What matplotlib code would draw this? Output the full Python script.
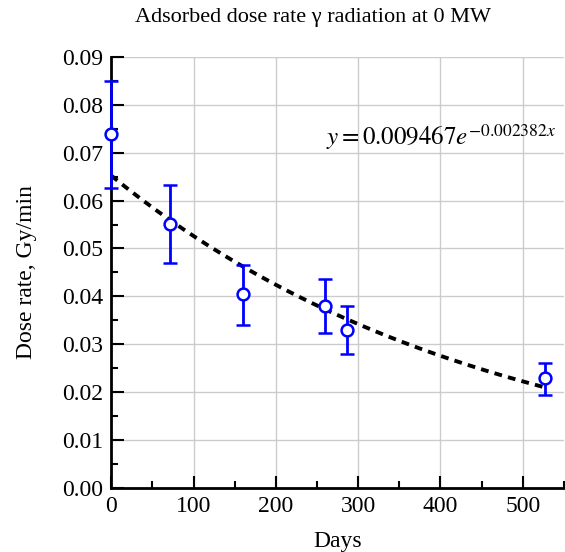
import numpy as np
import matplotlib.pyplot as plt
from matplotlib.ticker import MultipleLocator, FormatStrFormatter

plt.rcParams['font.family'] = ['Liberation Serif', 'DejaVu Serif']
plt.rcParams['mathtext.fontset'] = 'stix'

# measured points
days = [0, 71, 160, 260, 287, 527]
dose = [0.0739, 0.0551, 0.0405, 0.0380, 0.0330, 0.0229]
err_lo = [0.0112, 0.0081, 0.0065, 0.0056, 0.0051, 0.0035]
err_hi = [0.0111, 0.0082, 0.0060, 0.0057, 0.0050, 0.0031]

# exponential trend drawn in the chart
fit_a = 0.0652
fit_k = 0.00215
fit_xmax = 525

fig = plt.figure(figsize=(5.65, 5.52), dpi=100)
ax = fig.add_axes([0.197, 0.116, 0.801, 0.781])

xs = np.linspace(0, fit_xmax, 200)
ax.plot(xs, fit_a * np.exp(-fit_k * xs), color='black', lw=2.8,
        ls=(0, (2, 1.6)), zorder=3)

ax.errorbar(days, dose, yerr=[err_lo, err_hi], fmt='o', color='#0000ff',
            ecolor='#0000ff', elinewidth=2, capsize=5, capthick=2,
            markersize=8.5, markerfacecolor='white', markeredgewidth=1.8,
            zorder=4, clip_on=False)

ax.set_xlim(0, 550)
ax.set_ylim(0, 0.09)
ax.xaxis.set_major_locator(MultipleLocator(100))
ax.xaxis.set_minor_locator(MultipleLocator(50))
ax.yaxis.set_major_locator(MultipleLocator(0.01))
ax.yaxis.set_minor_locator(MultipleLocator(0.005))
ax.yaxis.set_major_formatter(FormatStrFormatter('%.2f'))

ax.grid(True, which='major', color='#cccccc', lw=1)
ax.set_axisbelow(True)
for s in ['top', 'right']:
    ax.spines[s].set_visible(False)
for s in ['left', 'bottom']:
    ax.spines[s].set_linewidth(2)
ax.tick_params(which='major', direction='in', length=9, width=1.5,
               labelsize=17, colors='black', pad=6)
ax.tick_params(which='minor', direction='in', length=5, width=1.5)

ax.set_xlabel('Days', fontsize=17, labelpad=10)
ax.set_ylabel('Dose rate, Gy/min', fontsize=17, labelpad=18)
fig.text(0.554, 0.969, 'Adsorbed dose rate γ radiation at 0 MW', fontsize=16,
         ha='center', va='center')

ax.text(540, 0.0733, r'$y = 0.009467e^{-0.002382x}$', fontsize=18,
        ha='right', va='center')

fig.savefig('out.png', dpi=100)
